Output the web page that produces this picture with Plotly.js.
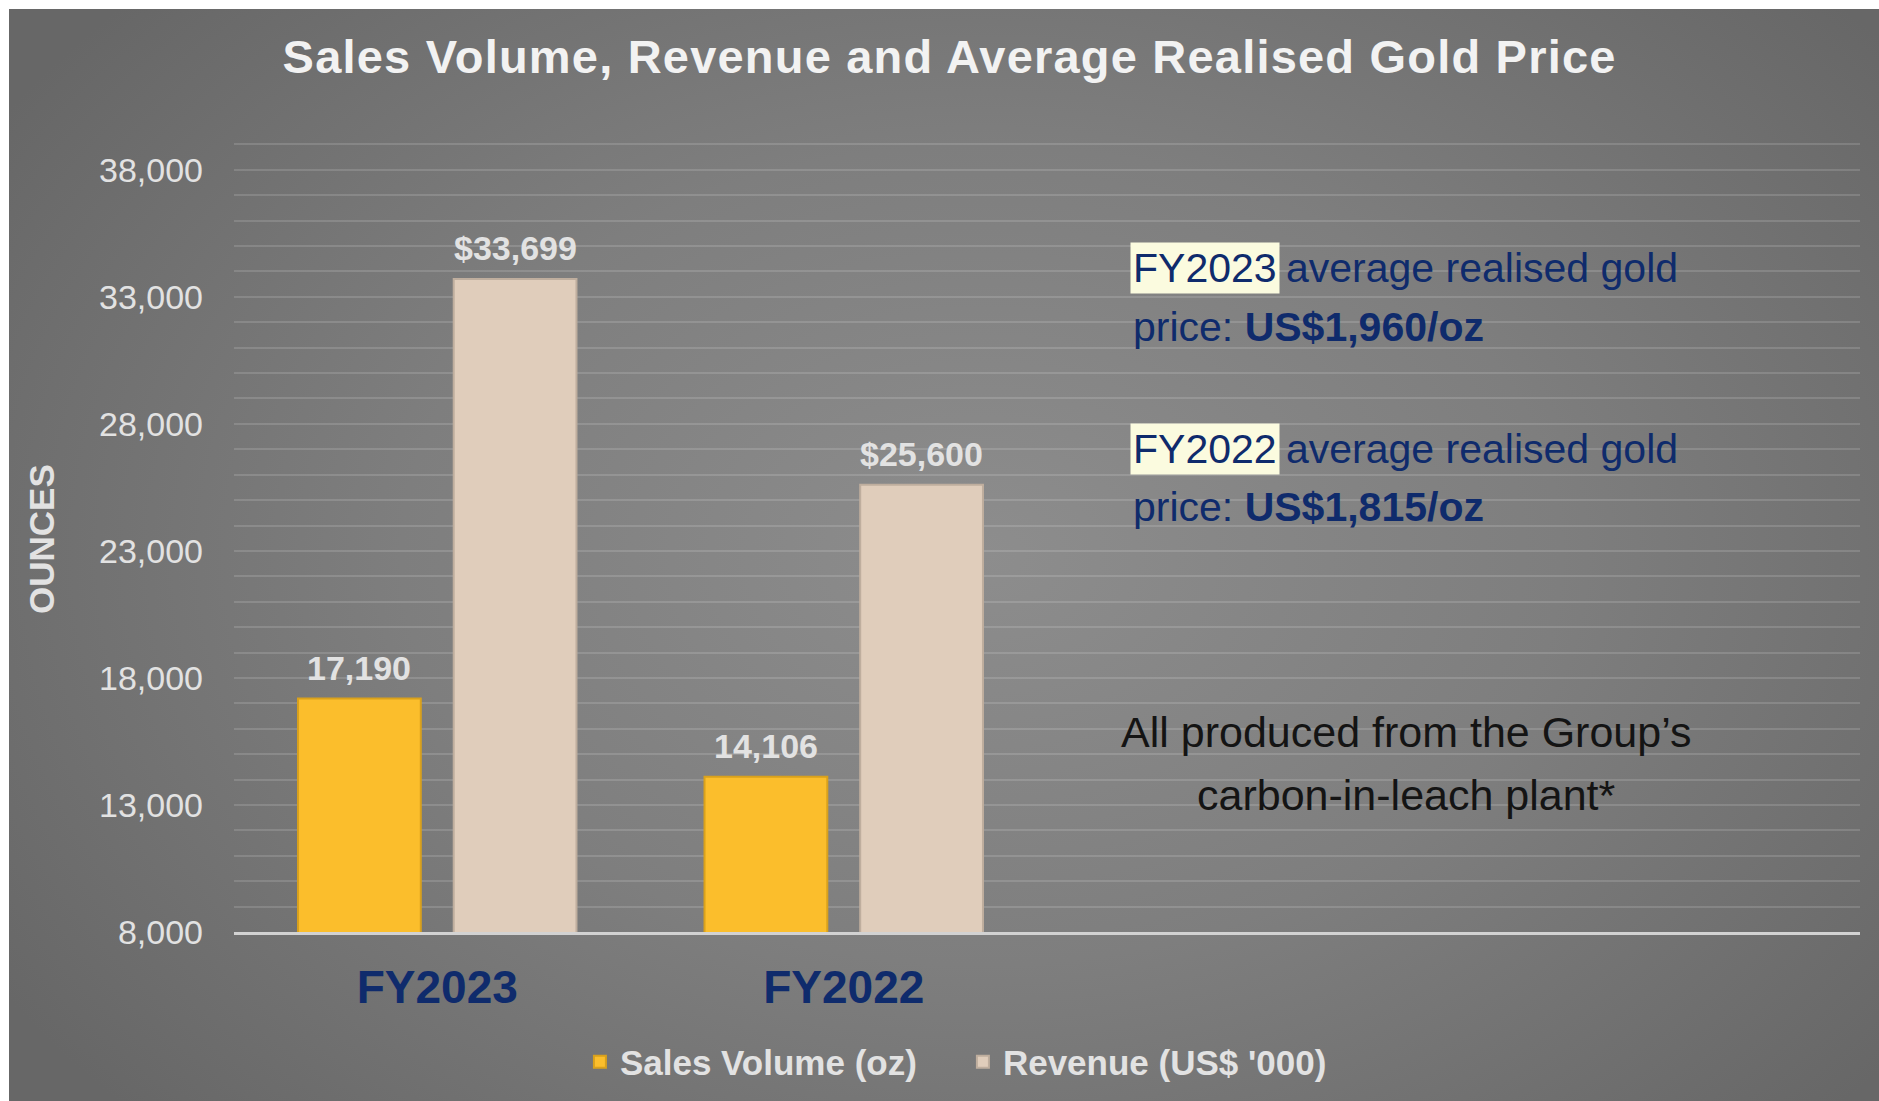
<!DOCTYPE html>
<html>
<head>
<meta charset="utf-8">
<script src="https://cdn.plot.ly/plotly-3.0.1.min.js"></script>
<style>
  html, body { margin: 0; padding: 0; background: #ffffff; }
  #chart {
    position: absolute; left: 9px; top: 9px; width: 1870px; height: 1092px;
    background: radial-gradient(ellipse 62% 75% at 52% 50%, #8d8d8d 0%, #7e7e7e 50%, #676767 100%);
  }
  #chart .gtitle { letter-spacing: 1.2px; }
</style>
</head>
<body>
<div id="chart"></div>
<script>
// chart values
var years = ["FY2023", "FY2022"];
var salesOz = [17190, 14106];
var revenueK = [33699, 25600];
var salesLabels = ["17,190", "14,106"];
var revenueLabels = ["$33,699", "$25,600"];
var seriesNames = ["Sales Volume (oz)", "Revenue (US$ '000)"];
var priceYears = ["FY2023", "FY2022"];
var goldPrices = ["US$1,960/oz", "US$1,815/oz"];
var footNote = ["All produced from the Group\u2019s", "carbon-in-leach plant*"];

var SANS = "'Liberation Sans', Arial, sans-serif";
var NAVY = "#0f2b6c";
var LIGHT = "#e2e2e2";

var W = 1870, H = 1092;
var mar = {l: 225, r: 19, t: 110, b: 169};
var bargap = 0.234, bargroupgap = 0.2115;
var nSlots = 4; // two empty category slots on the right hold the notes

// half a bar slot in px, used to put value labels over each bar
var catW = (W - mar.l - mar.r) / nSlots;
var slotShift = catW * (1 - bargap) / 4;

var data = [
  {
    type: "bar", name: seriesNames[0], x: years, y: salesOz,
    marker: {color: "#fbbe2c", line: {color: "#d9a11c", width: 2}},
    hoverinfo: "none"
  },
  {
    type: "bar", name: seriesNames[1], x: years, y: revenueK,
    marker: {color: "#e0cdbb", line: {color: "#bfae9e", width: 2}},
    hoverinfo: "none"
  }
];

var annotations = [];
for (var i = 0; i < years.length; ++i) {
  annotations.push({
    x: years[i], y: salesOz[i], xref: "x", yref: "y", xshift: -slotShift, yshift: 31,
    text: salesLabels[i], showarrow: false, yanchor: "middle",
    font: {family: SANS, size: 34, color: LIGHT, weight: "bold"}
  });
  annotations.push({
    x: years[i], y: revenueK[i], xref: "x", yref: "y", xshift: slotShift, yshift: 31,
    text: revenueLabels[i], showarrow: false, yanchor: "middle",
    font: {family: SANS, size: 34, color: LIGHT, weight: "bold"}
  });
}

// y axis title, set a little below the middle as in the original
annotations.push({
  xref: "paper", yref: "paper", x: -0.1181, y: 0.4834, textangle: -90,
  xanchor: "center", yanchor: "middle", showarrow: false, text: "OUNCES",
  font: {family: SANS, size: 35, color: LIGHT, weight: "bold"}
});

// gold price notes
var noteY = [[0.8167, 0.7442], [0.5941, 0.5228]];
var noteFont = {family: SANS, size: 41, color: NAVY};
for (var k = 0; k < priceYears.length; ++k) {
  annotations.push({
    xref: "paper", yref: "paper", x: 0.551, y: noteY[k][0], xanchor: "left", yanchor: "middle",
    text: priceYears[k], showarrow: false, borderpad: 2, bgcolor: "#fbfbdf",
    font: noteFont
  });
  annotations.push({
    xref: "paper", yref: "paper", x: 0.6451, y: noteY[k][0], xanchor: "left", yanchor: "middle",
    text: "average realised gold", showarrow: false, borderpad: 2,
    font: noteFont
  });
  annotations.push({
    xref: "paper", yref: "paper", x: 0.551, y: noteY[k][1], xanchor: "left", yanchor: "middle",
    text: "price: <b>" + goldPrices[k] + "</b>", showarrow: false, borderpad: 2,
    font: noteFont
  });
}

var footY = [0.246, 0.1685];
for (var f = 0; f < footNote.length; ++f) {
  annotations.push({
    xref: "paper", yref: "paper", x: 0.7208, y: footY[f], xanchor: "center", yanchor: "middle",
    text: footNote[f], showarrow: false,
    font: {family: SANS, size: 43, color: "#141414"}
  });
}

var layout = {
  width: W, height: H,
  margin: mar,
  paper_bgcolor: "rgba(0,0,0,0)",
  plot_bgcolor: "rgba(0,0,0,0)",
  font: {family: SANS, color: LIGHT},
  title: {
    text: "Sales Volume, Revenue and Average Realised Gold Price",
    x: 0.503, xref: "container", xanchor: "center",
    y: 0.956, yref: "container", yanchor: "middle",
    font: {family: SANS, size: 47, color: "#f2f2f2", weight: "bold"}
  },
  barmode: "group",
  bargap: bargap,
  bargroupgap: bargroupgap,
  showlegend: true,
  legend: {
    orientation: "h", xref: "container", yref: "container",
    x: 0.3053, xanchor: "left", y: 0.0357, yanchor: "middle",
    entrywidth: 338,
    font: {family: SANS, size: 35, color: LIGHT, weight: "bold"},
    bgcolor: "rgba(0,0,0,0)"
  },
  xaxis: {
    type: "category",
    range: [-0.5, nSlots - 0.5],
    showgrid: false, zeroline: false,
    showline: true, linecolor: "#d2d2d2", linewidth: 3,
    ticks: "", ticklabelstandoff: 13,
    tickfont: {family: SANS, size: 46, color: NAVY, weight: "bold"},
    fixedrange: true
  },
  yaxis: {
    range: [8000, 40000],
    tick0: 8000, dtick: 5000,
    tickformat: ",d",
    showgrid: true, gridcolor: "rgba(255,255,255,0.14)", gridwidth: 2,
    minor: {tick0: 8000, dtick: 1000, showgrid: true, gridcolor: "rgba(255,255,255,0.14)", gridwidth: 2},
    zeroline: false, showline: false,
    ticks: "", ticklabelstandoff: 30,
    tickfont: {family: SANS, size: 34, color: LIGHT},
    fixedrange: true
  },
  annotations: annotations
};

Plotly.newPlot("chart", data, layout, {displayModeBar: false, staticPlot: true});
</script>
</body>
</html>
